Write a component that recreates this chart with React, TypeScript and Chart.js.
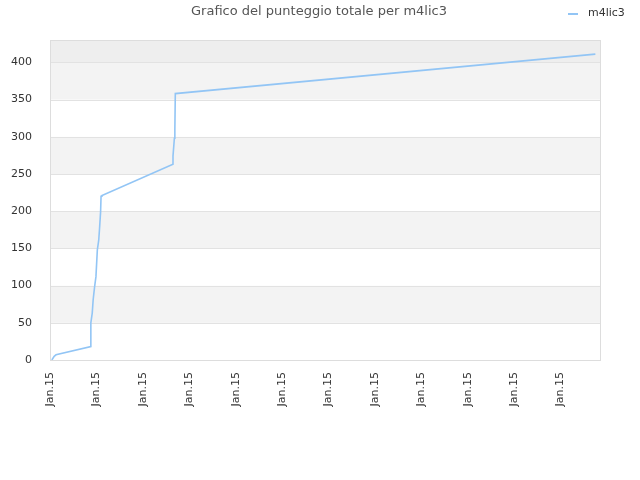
import React, { useEffect, useRef } from 'react';
import { Chart, registerables } from 'chart.js';

Chart.register(...registerables);

// x is measured in tick steps (one "Jan.15" label per step)
const pointX = [0.04, 0.09, 0.13, 0.88, 0.88, 0.91, 0.93, 0.96, 0.99, 1.02, 1.05, 1.07, 1.09, 1.10, 1.12, 2.65, 2.65, 2.68, 2.69, 2.70, 11.75];
const scores = [0, 5, 7, 18, 50, 63, 81, 98, 112, 148, 161, 179, 199, 220, 221, 263, 274, 298, 309, 358, 411];
const tickLabel = 'Jan.15';
const tickCount = 12;
const seriesName = 'm4lic3';
const chartTitle = 'Grafico del punteggio totale per m4lic3';

const bandsPlugin = {
  id: 'bands',
  beforeDatasetsDraw(chart: any) {
    const { ctx, chartArea: a, scales } = chart;
    const y = scales.y;
    ctx.save();
    for (let v = 0; v < y.max; v += 50) {
      const top = y.getPixelForValue(Math.min(v + 50, y.max));
      const bottom = y.getPixelForValue(v);
      const idx = v / 50;
      let color = idx % 2 === 1 ? '#f3f3f3' : '#ffffff';
      if (v >= 400) color = '#eeeeee';
      ctx.fillStyle = color;
      ctx.fillRect(a.left, top, a.right - a.left, bottom - top);
    }
    ctx.strokeStyle = '#e2e2e2';
    ctx.lineWidth = 1;
    for (let v = 50; v < y.max; v += 50) {
      const py = Math.round(y.getPixelForValue(v)) + 0.5;
      ctx.beginPath();
      ctx.moveTo(a.left, py);
      ctx.lineTo(a.right, py);
      ctx.stroke();
    }
    ctx.strokeStyle = '#dddddd';
    ctx.strokeRect(Math.round(a.left) + 0.5, Math.round(a.top) + 0.5, Math.round(a.right - a.left), Math.round(a.bottom - a.top));
    ctx.restore();
  },
  afterDraw(chart: any) {
    const { ctx } = chart;
    ctx.save();
    ctx.font = '13px "DejaVu Sans"';
    ctx.fillStyle = '#555555';
    ctx.textAlign = 'center';
    ctx.textBaseline = 'middle';
    ctx.fillText(chartTitle, 319, 12);
    ctx.font = '11px "DejaVu Sans"';
    ctx.fillStyle = '#333333';
    ctx.textAlign = 'left';
    ctx.fillText(seriesName, 588, 13);
    ctx.strokeStyle = '#92c5f5';
    ctx.lineWidth = 2;
    ctx.beginPath();
    ctx.moveTo(568, 14);
    ctx.lineTo(578, 14);
    ctx.stroke();
    ctx.restore();
  },
};

const App: React.FC = () => {
  const canvasRef = useRef<HTMLCanvasElement | null>(null);

  useEffect(() => {
    document.body.style.margin = '0';
    const ctx = canvasRef.current?.getContext('2d');
    if (!ctx) return;
    const chart = new Chart(ctx, {
      type: 'line',
      data: {
        datasets: [
          {
            label: seriesName,
            data: pointX.map((x, i) => ({ x, y: scores[i] })),
            borderColor: '#92c5f5',
            borderWidth: 1.6,
            pointRadius: 0,
            fill: false,
            tension: 0,
          },
        ],
      },
      options: {
        animation: false,
        responsive: false,
        layout: { padding: { top: 40, right: 40, left: 0, bottom: 0 } },
        plugins: { legend: { display: false }, title: { display: false }, tooltip: { enabled: false } },
        scales: {
          x: {
            type: 'linear',
            min: 0,
            max: 11.85,
            afterFit: (s: any) => { s.height = 120; },
            afterBuildTicks: (s: any) => {
              s.ticks = Array.from({ length: tickCount }, (_, i) => ({ value: i }));
            },
            grid: { display: false },
            border: { display: false },
            ticks: {
              minRotation: 90,
              maxRotation: 90,
              autoSkip: false,
              padding: 4,
              color: '#333333',
              font: { family: '"DejaVu Sans"', size: 11 },
              callback: () => tickLabel,
            },
          },
          y: {
            min: 0,
            max: 430,
            afterFit: (s: any) => { s.width = 50; },
            grid: { display: false },
            border: { display: false },
            ticks: {
              stepSize: 50,
              padding: 10,
              color: '#333333',
              font: { family: '"DejaVu Sans"', size: 11 },
              callback: (v: any) => (v % 50 === 0 ? String(v) : ''),
            },
          },
        },
      },
      plugins: [bandsPlugin],
    });
    return () => chart.destroy();
  }, []);

  return <canvas ref={canvasRef} width={640} height={480} style={{ display: 'block' }} />;
};

export default App;
